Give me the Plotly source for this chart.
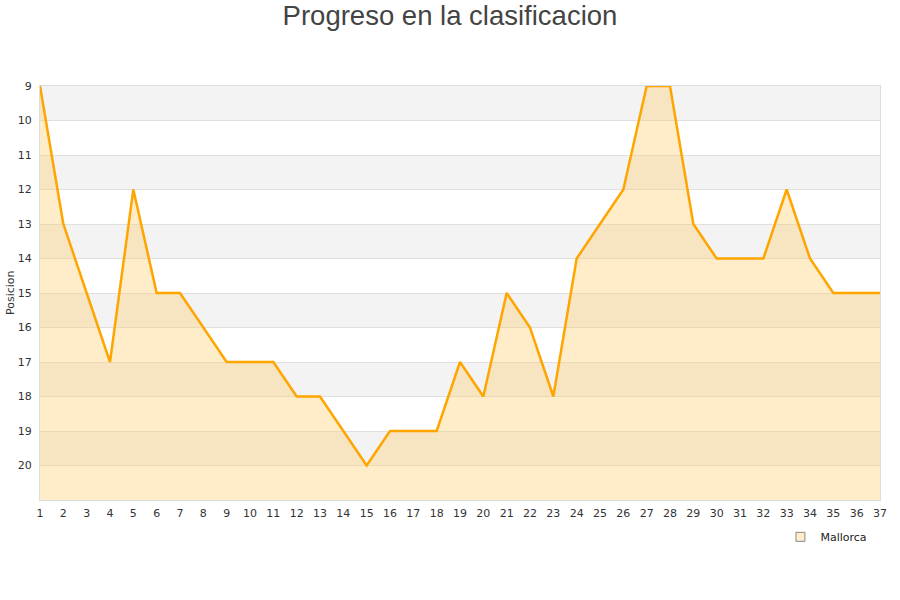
import plotly.graph_objects as go

jornadas = list(range(1, 38))
posicion = [9, 13, 15, 17, 12, 15, 15, 16, 17, 17, 17, 18, 18, 19, 20, 19, 19, 19, 17, 18,
            15, 16, 18, 14, 13, 12, 9, 9, 13, 14, 14, 14, 12, 14, 15, 15, 15]
equipo = "Mallorca"
y_ticks = list(range(9, 21))

fig = go.Figure()

# alternating bands
shapes = []
for k in range(9, 21, 2):
    shapes.append(dict(type="rect", xref="paper", yref="y", x0=0, x1=1, y0=k, y1=k + 1,
                       fillcolor="#f3f3f3", line=dict(width=0), layer="below"))

fig.add_trace(go.Scatter(x=jornadas, y=[21] * len(jornadas), mode="lines",
                         line=dict(width=0, color="rgba(0,0,0,0)"), showlegend=False,
                         hoverinfo="skip"))
fig.add_trace(go.Scatter(x=jornadas, y=posicion, mode="lines", fill="tonexty",
                         fillcolor="rgba(255,200,100,0.35)",
                         line=dict(color="#FFA500", width=2.5), showlegend=False,
                         name=equipo))
fig.add_trace(go.Scatter(x=[None], y=[None], mode="markers", name=equipo,
                         marker=dict(symbol="square", size=9, color="#FFEECC",
                                     line=dict(color="#888888", width=1))))

fig.update_layout(
    width=900, height=600,
    paper_bgcolor="white", plot_bgcolor="white",
    margin=dict(l=40, r=20, t=86, b=100, autoexpand=False),
    shapes=shapes,
    title=dict(text="Progreso en la clasificacion", x=0.5, xanchor="center", y=0.975, yanchor="middle",
               font=dict(family="Liberation Sans, Arial, sans-serif", size=27.5, color="#444444")),
    font=dict(family="DejaVu Sans, sans-serif", size=11, color="#333333"),
    showlegend=True,
    legend=dict(x=0.991, xanchor="right", y=-0.089, yanchor="middle", orientation="h",
                font=dict(size=11, color="#222222"), bgcolor="rgba(0,0,0,0)"),
    annotations=[dict(text="Posicion", xref="paper", yref="paper", x=-30 / 840, y=0.5,
                      xanchor="center", yanchor="middle", textangle=-90, showarrow=False,
                      font=dict(size=11, color="#333333"))],
    xaxis=dict(range=[1, 37], tickmode="array", tickvals=jornadas, ticktext=[str(j) for j in jornadas],
               showgrid=False, zeroline=False, showline=True, linecolor="#dddddd", mirror=True,
               ticks="outside", ticklen=3, tickcolor="rgba(0,0,0,0)",
               tickfont=dict(size=11, color="#333333")),
    yaxis=dict(range=[21, 9], tickmode="array", tickvals=y_ticks, ticktext=[str(t) for t in y_ticks],
               showgrid=True, gridcolor="#e0e0e0", zeroline=False, showline=True, linecolor="#dddddd",
               mirror=True, ticks="outside", ticklen=5, tickcolor="rgba(0,0,0,0)",
               tickfont=dict(size=11, color="#333333")),
)

fig.write_html("out.html", config={"displayModeBar": False},
               post_script="document.body.style.margin='0';")
